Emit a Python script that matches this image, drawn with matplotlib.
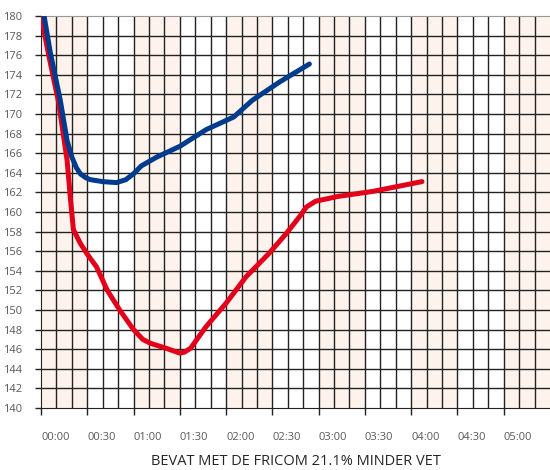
import matplotlib.pyplot as plt

# minutes since start, temperature reading
blue_min = [2, 6, 12.5, 16.9, 20, 23, 25.5, 29, 32, 40, 49, 55, 60, 65, 75, 90, 107, 125, 137, 155, 174]
blue_val = [180, 176.3, 171.4, 167.3, 165.6, 164.5, 163.9, 163.5, 163.3, 163.1, 163.0, 163.3, 163.9, 164.7, 165.6, 166.7, 168.4, 169.7, 171.4, 173.3, 175.1]

red_min = [0, 5, 11.4, 16.9, 19, 21, 25.5, 30, 36, 43, 51, 60, 66, 71, 81, 90, 93, 97, 107, 120, 133, 148, 159, 168, 172, 178, 193, 215, 247]
red_val = [180, 176.0, 171.2, 165.3, 161.5, 158.2, 156.8, 155.7, 154.4, 152.0, 150.0, 148.0, 147.0, 146.6, 146.1, 145.6, 145.7, 146.1, 148.3, 150.7, 153.4, 155.8, 157.8, 159.6, 160.5, 161.1, 161.6, 162.1, 163.1]

tick_labels = ["00:00", "00:30", "01:00", "01:30", "02:00", "02:30",
               "03:00", "03:30", "04:00", "04:30", "05:00"]

plt.rcParams['font.family'] = ['Open Sans', 'DejaVu Sans']

fig = plt.figure(figsize=(5.5, 4.7), dpi=100)
ax = fig.add_axes([41/550, 62/470, 1 - 41/550, (408-16)/470])

# shaded blocks for every other half hour
for k in range(0, len(tick_labels), 2):
    ax.axvspan(k*30, k*30+30, color='#fdf3ec', lw=0, zorder=0)

# grid: every 10 minutes, every 2 degrees
for m in range(10, 330, 10):
    ax.axvline(m, color='#222222', lw=1.0, zorder=1)
for v in range(142, 180, 2):
    ax.axhline(v, color='#222222', lw=1.0, zorder=1)

ax.plot(red_min, red_val, color='#e3001b', lw=3.6, solid_capstyle='round', solid_joinstyle='round', zorder=3)
ax.plot(blue_min, blue_val, color='#003b8e', lw=3.6, solid_capstyle='round', solid_joinstyle='round', zorder=4)

ax.set_xlim(0, 330)
ax.set_ylim(140, 180)
ax.set_yticks(range(140, 181, 2))
ax.set_xticks([k*30 for k in range(len(tick_labels))])
ax.set_xticklabels(tick_labels, ha='left')
ax.tick_params(axis='x', length=5, width=1, color='#222222', pad=12, labelsize=8, labelcolor='#595959')
ax.tick_params(axis='y', length=4.5, width=1, color='#222222', pad=9, labelsize=8, labelcolor='#595959')

ax.spines['left'].set_color('#222222')
ax.spines['bottom'].set_color('#222222')
ax.spines['top'].set_color('#999999')
ax.spines['right'].set_visible(False)

ax.set_xlabel('BEVAT MET DE FRICOM 21.1% MINDER VET', fontsize=10.5, color='#262626', labelpad=8)

fig.savefig('out.png', dpi=100)
